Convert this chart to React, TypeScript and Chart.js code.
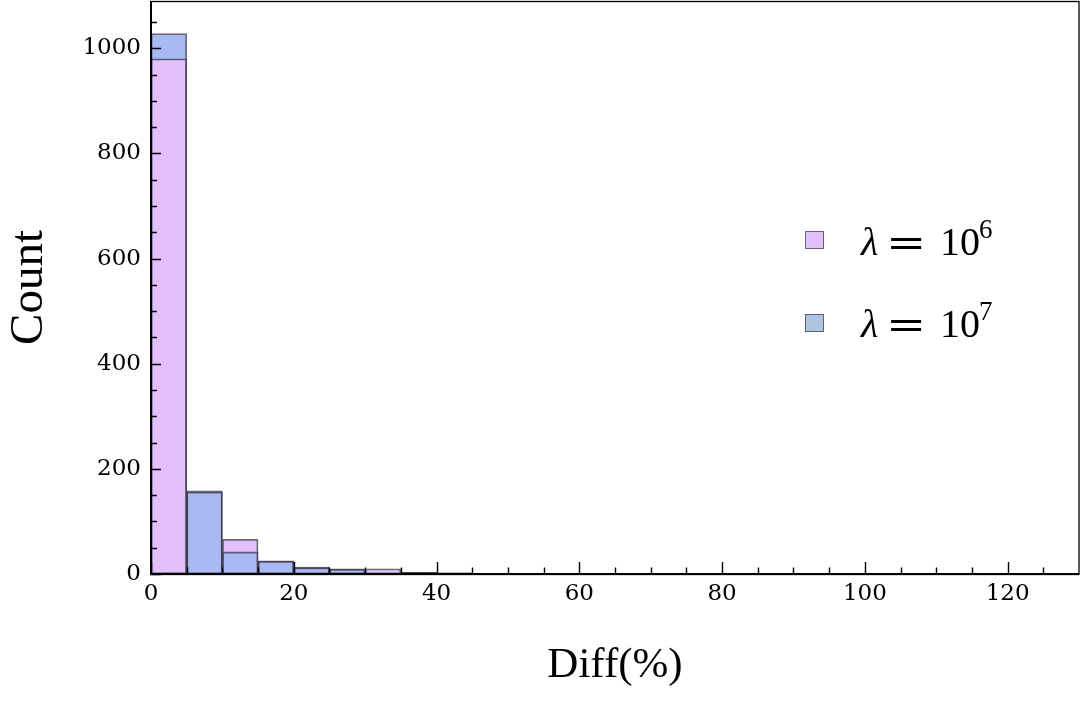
import React, { useEffect, useRef } from "react";
import { Chart, registerables } from "chart.js";

Chart.register(...registerables);

// Histogram bins (bin start, width 5)
const binStarts = [0, 5, 10, 15, 20, 25, 30, 35, 40, 45, 50, 55, 60, 65, 70, 75, 80, 85, 90, 95, 100, 105, 110, 115, 120, 125];
const binWidth = 5;
// Counts for λ = 10^6 (pink) and λ = 10^7 (blue)
const countsLambda6 = [980, 158, 66, 25, 13, 10, 10, 3, 2, 1, 0, 0, 0, 0, 1, 0, 0, 0, 0, 0, 0, 0, 1, 0, 0, 0];
const countsLambda7 = [1028, 156, 42, 24, 12, 9, 1, 3, 2, 1, 0, 0, 0, 0, 1, 0, 0, 0, 0, 0, 0, 0, 1, 0, 0, 0];

// Axis ticks
const xTickValues = [0, 20, 40, 60, 80, 100, 120];
const xMinorTickValues = [5, 10, 15, 25, 30, 35, 45, 50, 55, 65, 70, 75, 85, 90, 95, 105, 110, 115, 125];
const yTickValues = [0, 200, 400, 600, 800, 1000];
const yMinorTickValues = [50, 100, 150, 250, 300, 350, 450, 500, 550, 650, 700, 750, 850, 900, 950, 1050];

const pinkFill = "rgb(227,191,251)";
const blueFill = "rgb(169,186,242)";
const barEdge = "rgba(55,57,75,0.75)";

const innerTicks = {
  id: "innerTicks",
  afterDatasetsDraw(chart: any) {
    const { ctx, chartArea: a, scales } = chart;
    const x = scales.x;
    const y = scales.y;
    ctx.save();
    ctx.strokeStyle = "#000";
    ctx.lineWidth = 1.4;
    ctx.beginPath();
    for (const v of xTickValues) {
      const px = Math.round(x.getPixelForValue(v)) + 0.5;
      ctx.moveTo(px, a.bottom);
      ctx.lineTo(px, a.bottom - 12);
    }
    for (const v of xMinorTickValues) {
      const px = Math.round(x.getPixelForValue(v)) + 0.5;
      ctx.moveTo(px, a.bottom);
      ctx.lineTo(px, a.bottom - 6.5);
    }
    for (const v of yTickValues) {
      const py = Math.round(y.getPixelForValue(v)) + 0.5;
      ctx.moveTo(a.left, py);
      ctx.lineTo(a.left + 10, py);
    }
    for (const v of yMinorTickValues) {
      const py = Math.round(y.getPixelForValue(v)) + 0.5;
      ctx.moveTo(a.left, py);
      ctx.lineTo(a.left + 6, py);
    }
    ctx.stroke();
    // frame
    ctx.lineWidth = 1.3;
    ctx.strokeRect(a.left, a.top + 0.5, a.right - a.left, a.bottom - a.top);
    ctx.lineWidth = 2;
    ctx.beginPath();
    ctx.moveTo(a.left, a.top);
    ctx.lineTo(a.left, a.bottom);
    ctx.lineTo(a.right, a.bottom);
    ctx.stroke();
    ctx.restore();
  },
};

export default function App() {
  const canvasRef = useRef<HTMLCanvasElement | null>(null);

  useEffect(() => {
    const canvas = canvasRef.current;
    if (!canvas) return;
    const centers = binStarts.map((s) => s + binWidth / 2);
    const tall = binStarts.map((_, i) => Math.max(countsLambda6[i], countsLambda7[i]));
    const short = binStarts.map((_, i) => Math.min(countsLambda6[i], countsLambda7[i]));
    const tallColors = binStarts.map((_, i) => (countsLambda6[i] >= countsLambda7[i] ? pinkFill : blueFill));
    const shortColors = binStarts.map((_, i) => (countsLambda6[i] >= countsLambda7[i] ? blueFill : pinkFill));
    const toPoints = (arr: number[]) => centers.map((c, i) => ({ x: c, y: arr[i] > 0 ? arr[i] : null }));

    const common = {
      borderColor: barEdge,
      borderWidth: 1.8,
      borderSkipped: false,
      barPercentage: 1,
      categoryPercentage: 1,
      grouped: false,
    };

    const chart = new Chart(canvas, {
      type: "bar",
      data: {
        datasets: [
          { label: "shorter", data: toPoints(short) as any, backgroundColor: shortColors, ...common } as any,
          { label: "taller", data: toPoints(tall) as any, backgroundColor: tallColors, ...common } as any,
        ],
      },
      options: {
        responsive: false,
        animation: false,
        layout: { padding: { left: 0, right: 5, top: 1, bottom: 0 } },
        plugins: { legend: { display: false }, tooltip: { enabled: false } },
        scales: {
          x: {
            type: "linear",
            min: 0,
            max: 130,
            offset: false,
            grid: { display: false, drawTicks: false, offset: false },
            border: { display: false },
            afterBuildTicks: (s: any) => {
              s.ticks = xTickValues.map((v) => ({ value: v }));
            },
            afterFit: (s: any) => {
              s.height = 131;
              s.paddingLeft = 0;
              s.paddingRight = 0;
            },
            ticks: {
              padding: 6,
              color: "#000",
              font: { family: "DejaVu Serif", size: 23 },
              maxRotation: 0,
              autoSkip: false,
              callback: (v: any) => String(v),
            },
            title: {
              display: true,
              text: "Diff(%)",
              color: "#000",
              font: { family: "Liberation Serif", size: 43 },
              padding: { top: 0, bottom: 13 },
            },
          },
          y: {
            type: "linear",
            min: 0,
            max: 1090,
            grid: { display: false, drawTicks: false },
            border: { display: false },
            afterBuildTicks: (s: any) => {
              s.ticks = yTickValues.map((v) => ({ value: v }));
            },
            afterFit: (s: any) => {
              s.width = 151;
              s.paddingTop = 0;
              s.paddingBottom = 0;
            },
            ticks: {
              padding: 10,
              color: "#000",
              font: { family: "DejaVu Serif", size: 23 },
              autoSkip: false,
              callback: (v: any) => String(v),
            },
            title: {
              display: true,
              text: "Count",
              color: "#000",
              font: { family: "Liberation Serif", size: 47 },
              padding: { top: 1, bottom: 0 },
            },
          },
        },
      },
      plugins: [innerTicks],
    });
    return () => chart.destroy();
  }, []);

  const legendText: React.CSSProperties = {
    position: "absolute",
    fontFamily: "Liberation Serif",
    fontSize: 40,
    lineHeight: "40px",
    color: "#000",
    whiteSpace: "nowrap",
  };
  const rows = [
    { color: pinkFill, exp: "6", top: 221.5, sq: 231 },
    { color: "rgb(176,196,226)", exp: "7", top: 303.5, sq: 314 },
  ];

  return (
    <div style={{ position: "fixed", left: 0, top: 0, width: 1084, height: 705, background: "#fff" }}>
      <canvas ref={canvasRef} width={1084} height={705} style={{ display: "block", width: 1084, height: 705 }} />
      {rows.map((r) => (
        <React.Fragment key={r.exp}>
          <div
            style={{
              position: "absolute",
              left: 805,
              top: r.sq,
              width: 17,
              height: 16,
              background: r.color,
              border: "1.5px solid rgba(80,80,95,0.85)",
            }}
          />
          <span style={{ ...legendText, left: 861, top: r.top, fontStyle: "italic" }}>λ</span>
          <span
            style={{
              ...legendText,
              left: 886,
              top: r.top,
              fontFamily: "DejaVu Serif",
              transform: "scaleX(1.2)",
              transformOrigin: "left center",
            }}
          >
            =
          </span>
          <span style={{ ...legendText, left: 940, top: r.top }}>10</span>
          <span style={{ ...legendText, left: 979, top: r.top - 6, fontSize: 27, lineHeight: "27px" }}>{r.exp}</span>
        </React.Fragment>
      ))}
    </div>
  );
}
